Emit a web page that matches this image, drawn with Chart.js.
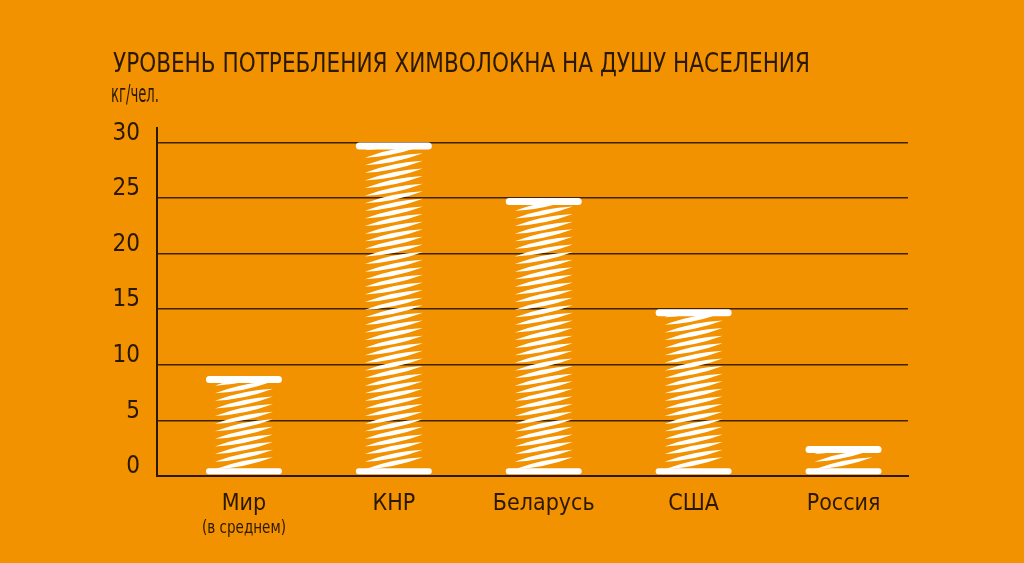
<!DOCTYPE html>
<html lang="ru">
<head>
<meta charset="utf-8">
<title>Уровень потребления химволокна на душу населения</title>
<script src="https://cdn.jsdelivr.net/npm/chart.js@4.4.1/dist/chart.umd.min.js"></script>
<style>
  html, body { margin: 0; padding: 0; background: #f39200; }
  #wrap { position: relative; width: 1024px; height: 563px; }
</style>
</head>
<body>
<div id="wrap"><canvas id="fibreChart" width="1024" height="563"></canvas></div>
<script>
const TITLE = "УРОВЕНЬ ПОТРЕБЛЕНИЯ ХИМВОЛОКНА НА ДУШУ НАСЕЛЕНИЯ";
const UNIT = "кг/чел.";
const COUNTRIES = ["Мир", "КНР", "Беларусь", "США", "Россия"];
const COUNTRY_NOTES = ["(в среднем)", "", "", "", ""];
const KG_PER_CAPITA = [9, 30, 25, 15, 2.7];
const Y_TICKS = [0, 5, 10, 15, 20, 25, 30];

const BG = "#f39200";
const INK = "#2a1800";
const GRID = "#3d2300";
const FONT = "'Liberation Sans Narrow', 'DejaVu Sans Condensed', 'Roboto Condensed', sans-serif";

// text squeezed to a given width, since the source uses a condensed face
function drawFitted(ctx, text, x, y, size, width, align) {
  ctx.save();
  ctx.font = `${size}px ${FONT}`;
  const k = width / ctx.measureText(text).width;
  ctx.translate(x, y);
  ctx.scale(k, 1);
  ctx.textAlign = align;
  ctx.textBaseline = "alphabetic";
  ctx.fillStyle = INK;
  ctx.fillText(text, 0, 0);
  ctx.restore();
}

const background = {
  id: "background",
  beforeDraw(chart) {
    const ctx = chart.ctx;
    ctx.save();
    ctx.fillStyle = BG;
    ctx.fillRect(0, 0, chart.width, chart.height);
    ctx.restore();
  },
};

const headings = {
  id: "headings",
  afterDraw(chart) {
    const ctx = chart.ctx;
    drawFitted(ctx, TITLE, 113, 72, 26, 697, "left");
    drawFitted(ctx, UNIT, 111, 102, 24, 48, "left");
    const xs = chart.scales.x;
    COUNTRY_NOTES.forEach((note, i) => {
      if (!note) return;
      drawFitted(ctx, note, xs.getPixelForValue(i), 533, 18, 84, "center");
    });
  },
};

// each bar is drawn as a thread spool: two flanges and diagonal windings
const spools = {
  id: "spools",
  afterDatasetsDraw(chart) {
    const ctx = chart.ctx;
    const FLANGE_W = 76, FLANGE_H = 7, BODY_W = 58, STEP = 7.6, RISE = 12, THICK = 2.4;
    chart.getDatasetMeta(0).data.forEach((bar) => {
      const cx = bar.x, top = bar.y, base = bar.base;
      ctx.save();
      ctx.fillStyle = "#ffffff";

      ctx.beginPath();
      ctx.roundRect(cx - FLANGE_W / 2, top, FLANGE_W, FLANGE_H, FLANGE_H / 2);
      ctx.roundRect(cx - FLANGE_W / 2, base - FLANGE_H, FLANGE_W, FLANGE_H - 1, (FLANGE_H - 1) / 2);
      ctx.fill();

      const bodyTop = top + FLANGE_H, bodyBottom = base - FLANGE_H;
      const xl = cx - BODY_W / 2, xr = cx + BODY_W / 2;
      ctx.beginPath();
      ctx.rect(xl - 2, bodyTop - 1, BODY_W + 4, bodyBottom - bodyTop + 2);
      ctx.clip();
      ctx.beginPath();
      for (let y = bodyBottom + 1; y > bodyTop - 2; y -= STEP) {
        const yr = y - RISE, ym = y - RISE / 2;
        ctx.moveTo(xl, y);
        ctx.quadraticCurveTo(cx, ym - THICK * 2, xr, yr);
        ctx.quadraticCurveTo(cx, ym + THICK * 2, xl, y);
      }
      ctx.fill();
      ctx.restore();
    });
  },
};

new Chart(document.getElementById("fibreChart"), {
  type: "bar",
  data: {
    datasets: [
      {
        label: "кг/чел.",
        data: KG_PER_CAPITA.map((v, i) => ({ x: i, y: v })),
        backgroundColor: "rgba(0,0,0,0)",
        borderWidth: 0,
      },
    ],
  },
  options: {
    responsive: false,
    animation: false,
    devicePixelRatio: 1,
    layout: { padding: { top: 128, right: 116, bottom: 0, left: 0 } },
    plugins: {
      legend: { display: false },
      tooltip: { enabled: false },
    },
    scales: {
      x: {
        type: "linear",
        offset: false,
        min: -0.58,
        max: 4.43,
        afterFit: (scale) => { scale.height = 87; },
        afterBuildTicks: (axis) => { axis.ticks = COUNTRIES.map((_, i) => ({ value: i })); },
        grid: { display: false, drawTicks: false },
        border: { display: true, color: INK, width: 2 },
        ticks: {
          autoSkip: false,
          maxRotation: 0,
          padding: 14,
          color: INK,
          font: { family: FONT, size: 23 },
          callback: (v) => COUNTRIES[v] ?? "",
        },
      },
      y: {
        min: 0,
        max: 31.3,
        afterFit: (scale) => { scale.width = 157; },
        afterBuildTicks: (axis) => { axis.ticks = Y_TICKS.map((v) => ({ value: v })); },
        grid: { color: GRID, lineWidth: 1.5, drawTicks: false },
        border: { display: true, color: INK, width: 2 },
        ticks: {
          padding: 17,
          labelOffset: -9,
          color: INK,
          font: { family: FONT, size: 24 },
        },
      },
    },
  },
  plugins: [background, spools, headings],
});
</script>
</body>
</html>
